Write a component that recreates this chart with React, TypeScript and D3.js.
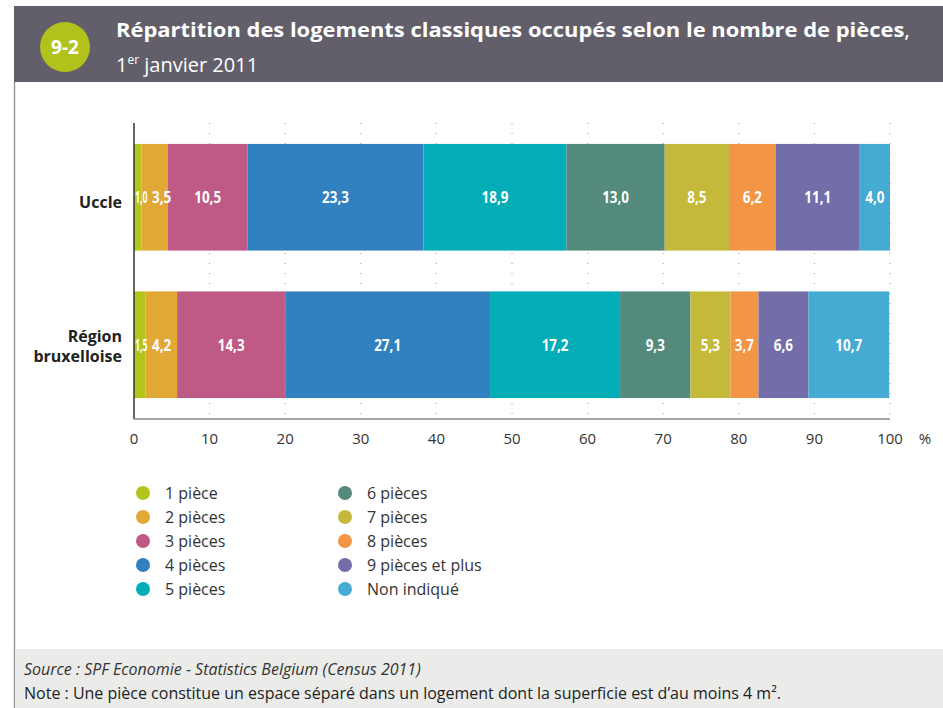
import React from "react";
import * as d3 from "d3";

const categories = ["Uccle", "Région bruxelloise"];
const series = [
  "1 pièce",
  "2 pièces",
  "3 pièces",
  "4 pièces",
  "5 pièces",
  "6 pièces",
  "7 pièces",
  "8 pièces",
  "9 pièces et plus",
  "Non indiqué",
];
const uccleValues = [1.0, 3.5, 10.5, 23.3, 18.9, 13.0, 8.5, 6.2, 11.1, 4.0];
const regionValues = [1.5, 4.2, 14.3, 27.1, 17.2, 9.3, 5.3, 3.7, 6.6, 10.7];
const seriesColors = [
  "#b3c41c",
  "#e2a836",
  "#bf5a86",
  "#3181c1",
  "#02adb8",
  "#538a7c",
  "#c4b93a",
  "#f29646",
  "#736ea9",
  "#45abd2",
];
const xTicks = [0, 10, 20, 30, 40, 50, 60, 70, 80, 90, 100];

const W = 943;
const H = 708;
const FONT = "'Open Sans', 'DejaVu Sans', sans-serif";
const LABEL_SIZE = 16;

export default function App() {
  const x = d3.scaleLinear().domain([0, 100]).range([134, 890]);
  const y = d3
    .scaleBand<string>()
    .domain(categories)
    .range([123, 419])
    .paddingInner(0.277)
    .paddingOuter(0.142);

  const table = categories.map((c, i) => {
    const vals = i === 0 ? uccleValues : regionValues;
    const row: Record<string, number | string> = { cat: c };
    series.forEach((s, j) => (row[s] = vals[j]));
    return row;
  });
  const stacked = d3.stack<any>().keys(series)(table);
  const color = d3.scaleOrdinal<string, string>().domain(series).range(seriesColors);
  const fmt = (v: number) => d3.format(".1f")(v).replace(".", ",");

  // positions des étiquettes : pas avant le début de la barre, et
  // on pousse à droite celles qui chevauchent la précédente
  const labels: { key: string; cx: number; cy: number; sx: number; text: string }[] = [];
  categories.forEach((cat, i) => {
    let prevRight = x(0) - 2;
    stacked.forEach((layer) => {
      const d = layer[i];
      const v = d[1] - d[0];
      const text = fmt(v);
      const sx = v < 2 ? 0.55 : 0.84;
      const w = text.length * LABEL_SIZE * 0.55 * sx;
      let cx = x((d[0] + d[1]) / 2);
      if (cx - w / 2 < prevRight + 2) cx = prevRight + 2 + w / 2;
      prevRight = cx + w / 2;
      labels.push({
        key: `${layer.key}-${cat}`,
        cx,
        cy: (y(cat) as number) + y.bandwidth() / 2 + 6,
        sx,
        text,
      });
    });
  });

  const gridTop = 123;
  const gridBottom = 419;

  return (
    <div style={{ position: "absolute", left: 0, top: 0 }}>
      <svg width={W} height={H} style={{ display: "block", fontFamily: FONT }}>
        <rect width={W} height={H} fill="#fff" />
        {/* bandeau de titre */}
        <rect x={14} y={6} width={W - 14} height={76} fill="#625f6b" />
        <circle cx={65} cy={47} r={25} fill="#b2c21d" />
        <text x={65} y={54} textAnchor="middle" fill="#fff" fontSize={19} fontWeight="bold">
          9-2
        </text>
        <text x={116} y={37} fill="#fff" fontSize={20} fontWeight="bold" textLength={794} lengthAdjust="spacingAndGlyphs">
          Répartition des logements classiques occupés selon le nombre de pièces
          <tspan fontWeight="normal">,</tspan>
        </text>
        <text x={116} y={72} fill="#fff" fontSize={20}>
          1<tspan fontSize={12} dy={-8}>er</tspan>
          <tspan dy={8}> janvier 2011</tspan>
        </text>

        {/* bord gauche */}
        <line x1={14.5} x2={14.5} y1={82} y2={H} stroke="#9a9a9a" strokeWidth={1.5} />

        {/* pied de page */}
        <rect x={15} y={649} width={W - 15} height={H - 649} fill="#ebecea" />
        <text x={24} y={675} fontSize={16} fill="#333" fontStyle="italic">
          Source : SPF Economie - Statistics Belgium (Census 2011)
        </text>
        <text x={24} y={699} fontSize={16} fill="#222">
          Note : Une pièce constitue un espace séparé dans un logement dont la superficie est d’au moins 4 m².
        </text>

        {/* grille pointillée */}
        {xTicks.slice(1).map((t) => (
          <line
            key={`g${t}`}
            x1={x(t)}
            x2={x(t)}
            y1={gridTop}
            y2={gridBottom}
            stroke="#9a9a9a"
            strokeWidth={1}
            strokeDasharray="1 9"
          />
        ))}

        {/* barres empilées */}
        {stacked.map((layer) => (
          <g key={layer.key} fill={color(layer.key)}>
            {layer.map((d, i) => {
              const cat = categories[i];
              const x0 = x(d[0]);
              const x1 = x(d[1]);
              return (
                <rect key={cat} x={x0} y={y(cat)} width={x1 - x0} height={y.bandwidth()} />
              );
            })}
          </g>
        ))}
        {labels.map((l) => (
          <text
            key={l.key}
            x={l.cx}
            y={l.cy}
            textAnchor="middle"
            fill="#fff"
            fontSize={LABEL_SIZE}
            fontWeight="bold"
            transform={`translate(${l.cx},0) scale(${l.sx},1) translate(${-l.cx},0)`}
          >
            {l.text}
          </text>
        ))}

        {/* axes */}
        <line x1={134} x2={134} y1={gridTop} y2={gridBottom} stroke="#333" strokeWidth={1.5} />
        <line x1={134} x2={890} y1={gridBottom} y2={gridBottom} stroke="#888" strokeWidth={1.5} />
        {xTicks.map((t) => (
          <text key={`t${t}`} x={x(t)} y={444} textAnchor="middle" fontSize={15} fill="#333">
            {t}
          </text>
        ))}
        <text x={925} y={444} textAnchor="middle" fontSize={15} fill="#333">
          %
        </text>

        {/* étiquettes des catégories */}
        <text x={122} y={208} textAnchor="end" fontSize={16} fontWeight="bold" fill="#222">
          Uccle
        </text>
        <text x={122} y={342} textAnchor="end" fontSize={16} fontWeight="bold" fill="#222">
          Région
        </text>
        <text x={122} y={362} textAnchor="end" fontSize={16} fontWeight="bold" fill="#222">
          bruxelloise
        </text>

        {/* légende */}
        {series.map((s, i) => {
          const col = Math.floor(i / 5);
          const row = i % 5;
          const lx = col === 0 ? 143 : 345;
          const ly = 493 + row * 24;
          return (
            <g key={s}>
              <circle cx={lx} cy={ly} r={7} fill={color(s)} />
              <text x={lx + 22} y={ly + 6} fontSize={16} fill="#333">
                {s}
              </text>
            </g>
          );
        })}
      </svg>
    </div>
  );
}
